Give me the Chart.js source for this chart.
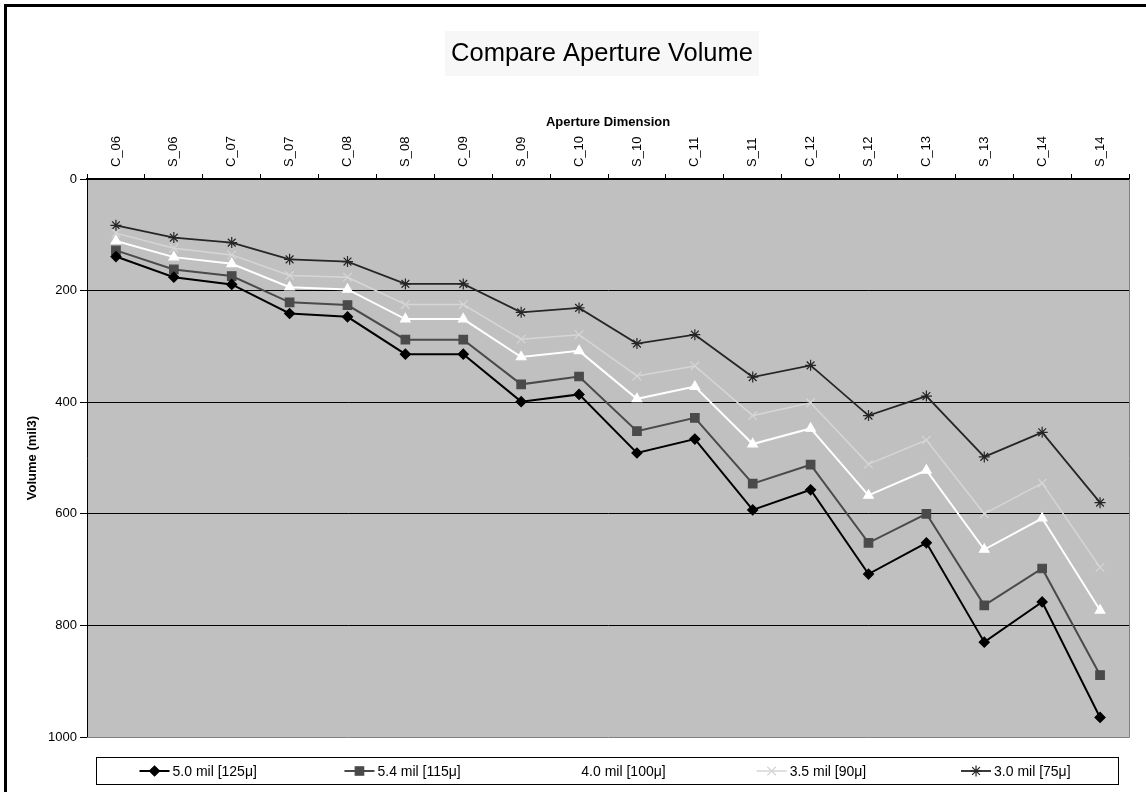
<!DOCTYPE html>
<html>
<head>
<meta charset="utf-8">
<title>Compare Aperture Volume</title>
<script src="https://cdn.jsdelivr.net/npm/chart.js@4.4.1/dist/chart.umd.min.js"></script>
<style>
    html, body { margin: 0; padding: 0; background: #fff; }
    canvas { display: block; }
</style>
</head>
<body>
<canvas id="graficoVolume" width="1146" height="792"></canvas>
<script>
const categorias = ["C_06", "S_06", "C_07", "S_07", "C_08", "S_08", "C_09", "S_09", "C_10",
    "S_10", "C_11", "S_11", "C_12", "S_12", "C_13", "S_13", "C_14", "S_14"];

// valores (mil3)
const vol50 = [139, 176, 189, 241, 247, 314, 314, 399, 386, 491, 466, 593, 557, 708, 652, 830, 758, 965];
const vol54 = [128, 162, 174, 221, 226, 288, 288, 368, 354, 452, 428, 546, 512, 652, 600, 764, 698, 889];
const vol40 = [111, 140, 152, 194, 198, 251, 251, 319, 308, 394, 372, 475, 447, 567, 522, 664, 608, 773];
const vol35 = [97, 124, 136, 173, 176, 225, 225, 287, 279, 353, 335, 424, 401, 511, 468, 600, 545, 696];
const vol30 = [83, 105, 114, 144, 148, 188, 188, 239, 231, 295, 279, 355, 334, 424, 389, 498, 454, 580];

const nomesSeries = ["5.0 mil [125μ]", "5.4 mil [115μ]", "4.0 mil [100μ]", "3.5 mil [90μ]", "3.0 mil [75μ]"];

const titulo = "Compare Aperture Volume";
const tituloX = "Aperture Dimension";
const tituloY = "Volume (mil3)";
const eixoMin = 0;
const eixoMax = 1000;
const eixoPasso = 200;

const fonte = "'Liberation Sans', Arial, sans-serif";
Chart.defaults.font.family = fonte;
Chart.defaults.color = "#000";

function serie(nome, valores, cor, estilo, raio, larg) {
    return {
        label: nome,
        data: valores,
        borderColor: cor,
        backgroundColor: cor,
        borderWidth: larg,
        pointStyle: estilo,
        pointRadius: raio,
        pointHoverRadius: raio,
        pointBorderWidth: 1.2,
        pointBorderColor: cor,
        pointBackgroundColor: cor,
        tension: 0,
        fill: false
    };
}

// fundo branco + area do grafico cinza
const fundo = {
    id: "fundo",
    beforeDraw(chart) {
        const ctx = chart.ctx;
        const a = chart.chartArea;
        ctx.save();
        ctx.fillStyle = "#fff";
        ctx.fillRect(0, 0, chart.width, chart.height);
        ctx.fillStyle = "#c0c0c0";
        ctx.fillRect(a.left, a.top, a.right - a.left, a.bottom - a.top);
        ctx.restore();
    },
    beforeDatasetsDraw(chart) {
        const ctx = chart.ctx;
        const a = chart.chartArea;
        ctx.save();
        ctx.strokeStyle = "#808080";
        ctx.lineWidth = 1;
        ctx.beginPath();
        ctx.moveTo(Math.round(a.right) + 0.5, a.top);
        ctx.lineTo(Math.round(a.right) + 0.5, Math.round(a.bottom) + 0.5);
        ctx.lineTo(a.left, Math.round(a.bottom) + 0.5);
        ctx.stroke();
        ctx.restore();
    }
};

// titulo, moldura e legenda no estilo do Excel
const extras = {
    id: "extras",
    afterDraw(chart) {
        const ctx = chart.ctx;
        ctx.save();

        // moldura
        ctx.fillStyle = "#000";
        ctx.fillRect(4, 4, 3, chart.height - 4);
        ctx.fillRect(4, 4, chart.width - 4, 3);

        // titulo
        ctx.font = "25.5px " + fonte;
        const wt = ctx.measureText(titulo).width;
        const cx = 602, cy = 53;
        ctx.fillStyle = "#f7f7f7";
        ctx.fillRect(cx - wt / 2 - 6, cy - 22, wt + 12, 45);
        ctx.fillStyle = "#000";
        ctx.textAlign = "center";
        ctx.textBaseline = "middle";
        ctx.fillText(titulo, cx, cy + 1);

        // legenda
        const lx = 96, ly = 757, lw = 1022, lh = 27;
        ctx.fillStyle = "#fff";
        ctx.fillRect(lx, ly, lw, lh);
        ctx.strokeStyle = "#000";
        ctx.lineWidth = 1;
        ctx.strokeRect(lx + 0.5, ly + 0.5, lw, lh);

        ctx.font = "14px " + fonte;
        ctx.textAlign = "left";
        const slot = lw / chart.data.datasets.length;
        const my = ly + lh / 2 + 0.5;
        chart.data.datasets.forEach(function (ds, i) {
            const tw = ctx.measureText(ds.label).width;
            const total = 30 + 3 + tw;
            const x0 = lx + slot * (i + 0.5) - total / 2;
            ctx.strokeStyle = ds.borderColor;
            ctx.lineWidth = ds.borderWidth;
            ctx.beginPath();
            ctx.moveTo(x0, my);
            ctx.lineTo(x0 + 30, my);
            ctx.stroke();
            ctx.fillStyle = ds.pointBackgroundColor;
            ctx.strokeStyle = ds.pointBorderColor;
            ctx.lineWidth = ds.pointBorderWidth;
            Chart.helpers.drawPoint(ctx, {
                pointStyle: ds.pointStyle,
                radius: ds.pointRadius,
                borderWidth: ds.pointBorderWidth,
                rotation: 0
            }, x0 + 15, my);
            ctx.fillStyle = "#000";
            ctx.textBaseline = "middle";
            ctx.fillText(ds.label, x0 + 33, my + 1);
        });

        ctx.restore();
    }
};

new Chart(document.getElementById("graficoVolume"), {
    type: "line",
    data: {
        labels: categorias,
        datasets: [
            serie(nomesSeries[0], vol50, "#000000", "rectRot", 5, 2),
            serie(nomesSeries[1], vol54, "#4a4a4a", "rect", 6, 2),
            serie(nomesSeries[2], vol40, "#ffffff", "triangle", 5.5, 2),
            serie(nomesSeries[3], vol35, "#d6d6d6", "crossRot", 6, 1.5),
            serie(nomesSeries[4], vol30, "#262626", "star", 5.5, 1.8)
        ]
    },
    options: {
        responsive: false,
        animation: false,
        devicePixelRatio: 1,
        layout: {
            padding: { left: 0, right: 17, top: 105, bottom: 55 }
        },
        plugins: {
            legend: { display: false },
            title: { display: false },
            tooltip: { enabled: false }
        },
        scales: {
            x: {
                type: "category",
                position: "top",
                offset: true,
                afterFit(scale) { scale.height = 74; },
                grid: {
                    offset: true,
                    drawOnChartArea: false,
                    drawTicks: true,
                    tickLength: 5,
                    tickColor: "#000"
                },
                border: { color: "#000", width: 2 },
                ticks: {
                    autoSkip: false,
                    minRotation: 90,
                    maxRotation: 90,
                    padding: 7,
                    labelOffset: 15.6,
                    font: { size: 13 },
                    color: "#000"
                },
                title: {
                    display: true,
                    text: tituloX,
                    font: { size: 13, weight: "bold" },
                    padding: { top: 10, bottom: 0 },
                    color: "#000"
                }
            },
            y: {
                reverse: true,
                min: eixoMin,
                max: eixoMax,
                afterFit(scale) { scale.width = 87; },
                grid: {
                    color(c) {
                        if (c.tick && (c.tick.value === eixoMin || c.tick.value === eixoMax)) {
                            return "rgba(0,0,0,0)";
                        }
                        return "#000";
                    },
                    lineWidth: 1,
                    drawTicks: true,
                    tickLength: 7,
                    tickColor: "#000"
                },
                border: { color: "#000", width: 1 },
                ticks: {
                    stepSize: eixoPasso,
                    padding: 3,
                    font: { size: 13 },
                    color: "#000",
                    callback(v) { return String(v); }
                },
                title: {
                    display: true,
                    text: tituloY,
                    font: { size: 13, weight: "bold" },
                    padding: { top: 25, bottom: 0 },
                    color: "#000"
                }
            }
        }
    },
    plugins: [fundo, extras]
});
</script>
</body>
</html>
